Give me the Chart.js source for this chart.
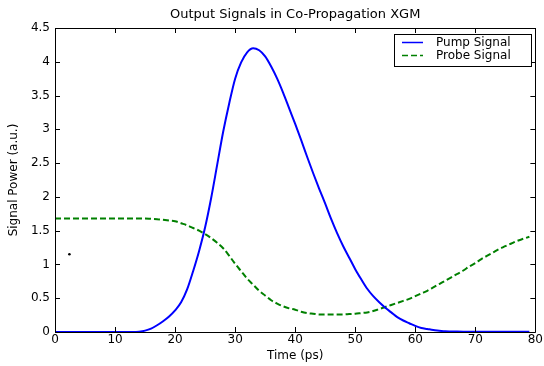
<!DOCTYPE html>
<html>
<head>
<meta charset="utf-8">
<script src="https://cdn.jsdelivr.net/npm/chart.js@4.4.1/dist/chart.umd.min.js"></script>
<style>
  html, body { margin: 0; padding: 0; background: #fff; }
  #wrap { width: 544px; height: 366px; }
</style>
</head>
<body>
<div id="wrap"><canvas id="myChart" width="544" height="366"></canvas></div>
<script>
const timePs = [
    0, 1, 2, 3, 4, 5, 6, 7, 8, 9, 10, 11, 12, 13, 14, 15, 16, 17, 18, 19,
    20, 21, 22, 23, 24, 25, 26, 27, 28, 29, 30, 31, 32, 33, 34, 35, 36, 37, 38, 39,
    40, 41, 42, 43, 44, 45, 46, 47, 48, 49, 50, 51, 52, 53, 54, 55, 56, 57, 58, 59,
    60, 61, 62, 63, 64, 65, 66, 67, 68, 69, 70, 71, 72, 73, 74, 75, 76, 77, 78, 79
];
const pumpSignal = [
    0, 0, 0, 0, 0, 0, 0, 0, 0, 0, 0, 0, 0, 0, 0.005, 0.02, 0.05, 0.1, 0.16, 0.23,
    0.32, 0.44, 0.63, 0.9, 1.2, 1.55, 1.98, 2.47, 2.96, 3.38, 3.75, 3.99, 4.14, 4.2, 4.17, 4.08, 3.93, 3.75, 3.54, 3.31,
    3.08, 2.84, 2.59, 2.35, 2.12, 1.9, 1.67, 1.46, 1.27, 1.1, 0.93, 0.78, 0.64, 0.53, 0.44, 0.36, 0.29, 0.22, 0.17, 0.13,
    0.09, 0.06, 0.045, 0.03, 0.02, 0.01, 0.008, 0.006, 0.005, 0.005, 0.005, 0.005, 0.005, 0.005, 0.005, 0.005, 0.005, 0.005, 0.005, 0.005
];
const probeSignal = [
    1.68, 1.68, 1.68, 1.68, 1.68, 1.68, 1.68, 1.68, 1.68, 1.68, 1.68, 1.68, 1.68, 1.68, 1.68, 1.68, 1.675, 1.67, 1.66, 1.65,
    1.64, 1.61, 1.58, 1.54, 1.5, 1.45, 1.39, 1.32, 1.24, 1.13, 1.01, 0.9, 0.79, 0.7, 0.61, 0.54, 0.47, 0.42, 0.38, 0.35,
    0.33, 0.3, 0.28, 0.27, 0.26, 0.26, 0.26, 0.26, 0.26, 0.265, 0.27, 0.28, 0.29, 0.31, 0.34, 0.37, 0.4, 0.43, 0.46, 0.49,
    0.53, 0.57, 0.61, 0.66, 0.71, 0.76, 0.81, 0.86, 0.91, 0.97, 1.02, 1.08, 1.13, 1.18, 1.23, 1.27, 1.31, 1.35, 1.38, 1.41
];
// the lone black dot on the left of the plot
const strayPoint = [{ x: 2.4, y: 1.15 }];

const xTicks = [0, 10, 20, 30, 40, 50, 60, 70, 80];
const yTicks = [0, 0.5, 1, 1.5, 2, 2.5, 3, 3.5, 4, 4.5];
const seriesLabels = ['Pump Signal', 'Probe Signal'];

const FONT = '"DejaVu Sans", sans-serif';

function toPoints(values) {
    return timePs.map((t, i) => ({ x: t, y: values[i] }));
}

// matlab style frame, inward ticks on all sides, and a boxed legend
const matlabFrame = {
    id: 'matlabFrame',
    afterDraw(chart) {
        const ctx = chart.ctx;
        const a = chart.chartArea;
        const xs = chart.scales.x;
        const ys = chart.scales.y;
        const tl = 5;
        ctx.save();
        ctx.strokeStyle = '#000';
        ctx.lineWidth = 1;
        ctx.beginPath();
        ctx.rect(Math.round(a.left) + 0.5, Math.round(a.top) + 0.5,
                 Math.round(a.right - a.left), Math.round(a.bottom - a.top));
        xTicks.forEach(v => {
            const px = Math.round(xs.getPixelForValue(v)) + 0.5;
            ctx.moveTo(px, a.bottom); ctx.lineTo(px, a.bottom - tl);
            ctx.moveTo(px, a.top); ctx.lineTo(px, a.top + tl);
        });
        yTicks.forEach(v => {
            const py = Math.round(ys.getPixelForValue(v)) + 0.5;
            ctx.moveTo(a.left, py); ctx.lineTo(a.left + tl, py);
            ctx.moveTo(a.right, py); ctx.lineTo(a.right - tl, py);
        });
        ctx.stroke();

        // legend
        const bx = 394.5, by = 34.5, bw = 137, bh = 32;
        ctx.fillStyle = '#fff';
        ctx.fillRect(bx, by, bw, bh);
        ctx.strokeRect(bx, by, bw, bh);
        ctx.font = '12px ' + FONT;
        ctx.textBaseline = 'middle';
        ctx.textAlign = 'left';
        seriesLabels.forEach((label, i) => {
            const ds = chart.data.datasets[i];
            const ly = 42.5 + i * 13;
            ctx.beginPath();
            ctx.strokeStyle = ds.borderColor;
            ctx.lineWidth = 1.5;
            ctx.setLineDash(ds.borderDash || []);
            ctx.moveTo(402, ly);
            ctx.lineTo(423, ly);
            ctx.stroke();
            ctx.setLineDash([]);
            ctx.fillStyle = '#000';
            ctx.fillText(label, 436, ly + 0.5);
        });
        ctx.restore();
    }
};

const ctx = document.getElementById('myChart').getContext('2d');
const chart = new Chart(ctx, {
    type: 'line',
    data: {
        datasets: [{
            label: seriesLabels[0],
            data: toPoints(pumpSignal),
            borderColor: '#0000ff',
            borderWidth: 2,
            pointRadius: 0,
            cubicInterpolationMode: 'monotone',
            fill: false
        }, {
            label: seriesLabels[1],
            data: toPoints(probeSignal),
            borderColor: '#008000',
            borderWidth: 2,
            borderDash: [6, 3],
            pointRadius: 0,
            cubicInterpolationMode: 'monotone',
            fill: false
        }, {
            label: 'dot',
            type: 'scatter',
            data: strayPoint,
            backgroundColor: '#000',
            borderColor: '#000',
            pointRadius: 1.3,
            borderWidth: 0,
            showLine: false
        }]
    },
    options: {
        responsive: false,
        animation: false,
        layout: { padding: { left: 0, right: 6, top: 0, bottom: 0 } },
        plugins: {
            legend: { display: false },
            tooltip: { enabled: false },
            title: {
                display: true,
                fullSize: false,
                text: 'Output Signals in Co-Propagation XGM',
                color: '#000',
                font: { family: FONT, size: 13, weight: 'normal', lineHeight: 1.2 },
                padding: { top: 7.2, bottom: 5.2 }
            }
        },
        scales: {
            x: {
                type: 'linear',
                min: 0,
                max: 80,
                afterBuildTicks: s => { s.ticks = xTicks.map(v => ({ value: v })); },
                afterFit: s => { s.height = 34; },
                grid: { display: false, drawTicks: false },
                border: { display: false },
                ticks: { color: '#000', padding: 1, maxRotation: 0, font: { family: FONT, size: 12 },
                         callback: v => String(v) },
                title: {
                    display: true,
                    text: 'Time (ps)',
                    color: '#000',
                    font: { family: FONT, size: 12 },
                    padding: { top: 0, bottom: 3 }
                }
            },
            y: {
                min: 0,
                max: 4.5,
                afterBuildTicks: s => { s.ticks = yTicks.map(v => ({ value: v })); },
                afterFit: s => { s.width = 55; },
                grid: { display: false, drawTicks: false },
                border: { display: false },
                ticks: { color: '#000', padding: 5, font: { family: FONT, size: 12 },
                         callback: v => String(v) },
                title: {
                    display: true,
                    text: 'Signal Power (a.u.)',
                    color: '#000',
                    font: { family: FONT, size: 12 },
                    padding: { top: 7, bottom: 0 }
                }
            }
        }
    },
    plugins: [matlabFrame]
});
</script>
</body>
</html>
